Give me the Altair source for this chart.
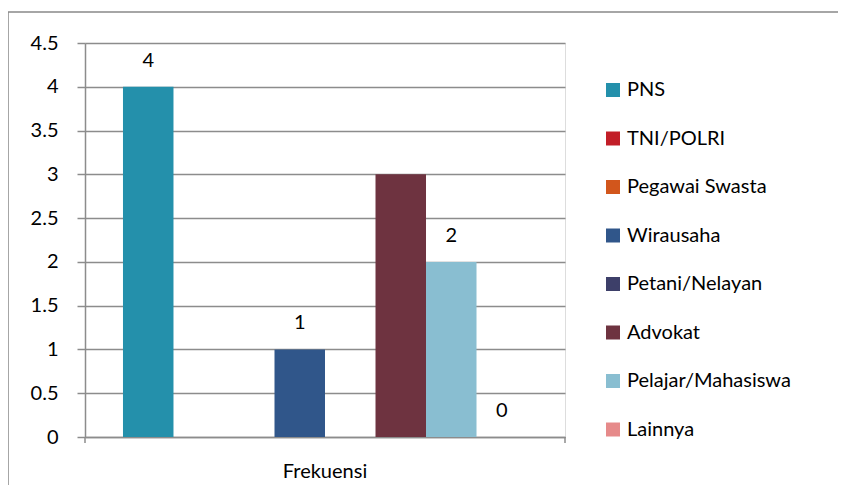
import altair as alt
import pandas as pd

categories = ["PNS", "TNI/POLRI", "Pegawai Swasta", "Wirausaha", "Petani/Nelayan",
              "Advokat", "Pelajar/Mahasiswa", "Lainnya"]
values = [4, 0, 0, 1, 0, 3, 2, 0]
labels = ["4", "", "", "1", "", "", "2", "0"]
colors = ["#2490AB", "#C21E28", "#D2561C", "#30568A", "#3D3F69",
          "#6E3340", "#89BED1", "#E68A8A"]
group = "Frekuensi"
y_ticks = [0, 0.5, 1, 1.5, 2, 2.5, 3, 3.5, 4, 4.5]

df = pd.DataFrame({"group": group, "cat": categories, "val": values, "lab": labels})

W, H = 480, 394
FONT = "Lato"
FS = 20
GRID = "#8c8c8c"

xscale = alt.Scale(paddingOuter=0.094, paddingInner=0)
x = alt.X("group:N", title=None, scale=xscale,
          axis=alt.Axis(labelAngle=0, ticks=False, domain=True, domainColor=GRID,
                        domainWidth=1.5, labelFontSize=FS, labelFont=FONT,
                        labelColor="#000", labelPadding=24, grid=False))
x_noaxis = alt.X("group:N", title=None, scale=xscale, axis=None)
xoff = alt.XOffset("cat:N", sort=categories, scale=alt.Scale(paddingInner=0, paddingOuter=0))
y = alt.Y("val:Q", title=None,
          scale=alt.Scale(domain=[0, 4.5], nice=False),
          axis=alt.Axis(values=y_ticks, format="~g", grid=True, gridColor=GRID,
                        gridWidth=1.5, domainColor=GRID, domainWidth=1.5,
                        tickColor=GRID, tickSize=8, tickWidth=1.5,
                        labelFontSize=FS, labelFont=FONT, labelColor="#000",
                        labelPadding=19))
color = alt.Color("cat:N", sort=categories,
                  scale=alt.Scale(domain=categories, range=colors),
                  legend=alt.Legend(title=None, orient="none", legendX=518, legendY=37,
                                    symbolType="square", symbolSize=196,
                                    symbolStrokeWidth=0, labelFontSize=FS,
                                    labelFont=FONT, labelColor="#000", labelLimit=0,
                                    labelOffset=4, rowPadding=28.5, padding=0))

bars = alt.Chart(df).mark_bar(size=50.5).encode(x=x, xOffset=xoff, y=y, color=color)

text = alt.Chart(df).mark_text(dy=-26, fontSize=FS, font=FONT, color="#000").encode(
    x=x_noaxis, xOffset=xoff, y=y, text="lab:N")

tick_df = pd.DataFrame({"p": [0, W]})
xticks = alt.Chart(tick_df).mark_rule(color=GRID, strokeWidth=1.5, clip=False).encode(
    x=alt.X("p:Q", scale=alt.Scale(domain=[0, W], range=[0, W]), axis=None),
    y=alt.value(H), y2=alt.value(H + 6))

border_df = pd.DataFrame({"k": [0]})
top_border = alt.Chart(border_df).mark_rule(color="#898989", strokeWidth=1.5, clip=False).encode(
    x=alt.value(-77), x2=alt.value(W + 273), y=alt.value(-31))
left_border = alt.Chart(border_df).mark_rule(color="#898989", strokeWidth=1.5, clip=False).encode(
    x=alt.value(-77), y=alt.value(-31), y2=alt.value(H + 48))

chart = alt.layer(bars, text, xticks, top_border, left_border).resolve_scale(
    x="independent").properties(
    width=W, height=H,
    padding={"left": 77, "top": 35, "right": 273, "bottom": 48},
    autosize=alt.AutoSizeParams(type="none"),
).configure_view(stroke=None).configure(background="white")

chart.save("out.html", embed_options={"renderer": "svg", "actions": False})
